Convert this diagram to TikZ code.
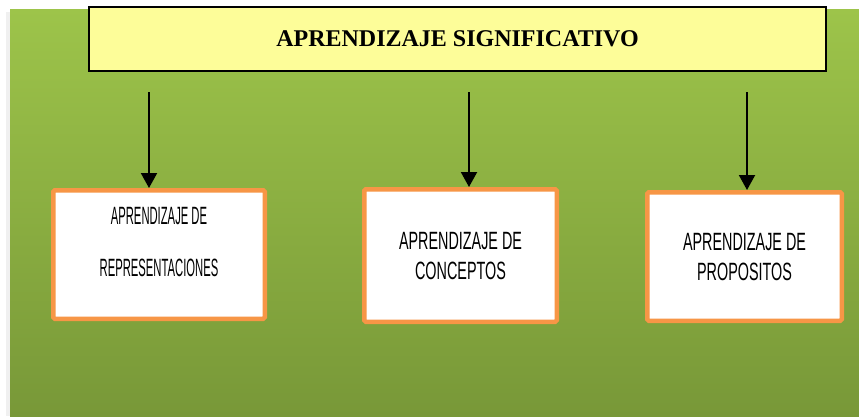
\documentclass[tikz,border=0pt]{standalone}
\usepackage{fontspec}
\setmainfont{Liberation Serif}
\newfontfamily\agA[FakeStretch=0.45]{Liberation Sans}
\newfontfamily\agB[FakeStretch=0.575]{Liberation Sans}
\definecolor{gtop}{RGB}{157,196,74}
\definecolor{gbot}{RGB}{120,152,56}
\definecolor{ttl}{RGB}{253,253,153}
\definecolor{org}{RGB}{247,150,70}
\usetikzlibrary{arrows.meta}
\tikzset{
  titlebox/.style={draw=black, line width=2pt, fill=ttl, inner sep=0pt},
  cbox/.style={draw=org, line width=4.5pt, fill=white, rounded corners=1.5pt, inner sep=0pt},
  lblA/.style={font=\agA\fontsize{25}{51.5}\selectfont, align=center, inner sep=0pt},
  lblB/.style={font=\agB\fontsize{25}{30.5}\selectfont, align=center, inner sep=0pt},
  arr/.style={line width=2pt, -{Triangle[width=16pt 0,length=15pt 0]}},
}
\begin{document}
\begin{tikzpicture}[x=1pt,y=-1pt]
\useasboundingbox (0,0) rectangle (859,416);
\fill[gray!12] (6,12) rectangle (10,416);
\shade[top color=gtop, bottom color=gbot] (10,9) rectangle (859,416);
\node[titlebox, minimum width=737pt, minimum height=64pt, font=\bfseries\fontsize{24}{28}\selectfont] (t) at (457.5,39) {APRENDIZAJE SIGNIFICATIVO};
\node[cbox, minimum width=211.5pt, minimum height=128.5pt] (b1) at (159,254.5) {};
\node[cbox, minimum width=192.5pt, minimum height=132.5pt] (b2) at (460.5,255.5) {};
\node[cbox, minimum width=194.5pt, minimum height=128.5pt] (b3) at (744.5,256.5) {};
\node[lblA] (l1) at (159,242) {APRENDIZAJE DE\\REPRESENTACIONES};
\node[lblB] (l2) at (460.5,256) {APRENDIZAJE DE\\CONCEPTOS};
\node[lblB] (l3) at (744.5,257) {APRENDIZAJE DE\\PROPOSITOS};
\coordinate (a1) at (149,92);
\coordinate (a2) at (469,92);
\coordinate (a3) at (747,92);
\draw[arr] (a1) -- (a1 |- b1.north);
\draw[arr] (a2) -- (a2 |- b2.north);
\draw[arr] (a3) -- (a3 |- b3.north);
\end{tikzpicture}
\end{document}
